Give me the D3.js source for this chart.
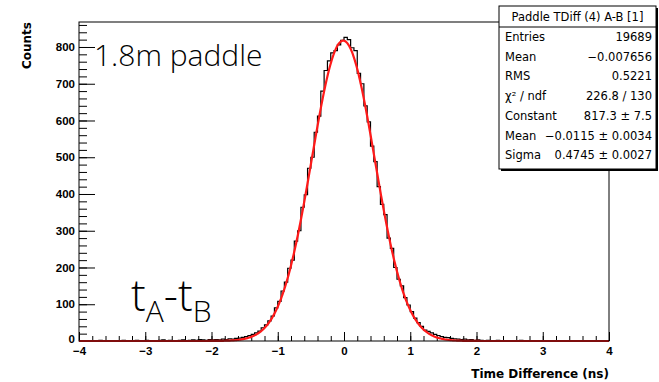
<!DOCTYPE html>
<html lang="en">
<head>
<meta charset="UTF-8">
<script src="https://d3js.org/d3.v7.min.js"></script>
<title>Paddle TDiff</title>
<style>
    body{ margin:0; background:#fff; }
    svg{ display:block; font-family:"DejaVu Sans", sans-serif; }
    .tick text{ font-weight:bold; font-size:11.5px; fill:#000; }
    .stat{ font-size:11.5px; fill:#000; }
</style>
</head>
<body>
<svg width="659" height="382"></svg>
<script>
// histogram: 160 bins of 0.05 ns from -4 to 4
let binLo = -4, binWidth = 0.05
let counts = [
  0,1,0,0,1,0,2,0,1,0, 1,0,0,2,1,0,1,2,0,1, 2,1,0,1,2,3,1,2,1,0, 2,3,1,2,3,2,4,3,2,4,
  3,4,3,5,4,6,5,7,8,10, 12,15,18,22,27,36,44,55,68,90, 108,136,160,198,220,272,300,364,398,470,
  500,568,612,680,736,762,784,790,806,818,
  826,820,798,790,728,700,640,596,530,488, 420,372,344,280,252,200,168,150,118,98,
  80,62,50,40,30,26,22,18,15,12, 10,9,7,6,5,4,5,3,4,2,
  3,2,1,2,1,1,2,0,1,1, 0,1,0,2,1,0,0,1,0,1, 0,0,1,0,0,1,0,0,0,1, 0,0,0,1,0,0,0,0,0,0
]
// gaussian fit parameters (from stats box)
let fitConstant = 817.3, fitMean = -0.0115, fitSigma = 0.4745
let statLabels = ["Entries", "Mean", "RMS", "\u03c7\u00b2 / ndf", "Constant", "Mean", "Sigma"]
let statValues = ["19689", "\u22120.007656", "0.5221", "226.8 / 130", "817.3 \u00b1 7.5", "\u22120.0115 \u00b1 0.0034", "0.4745 \u00b1 0.0027"]

let svg = d3.select("svg")
let fLeft = 79, fRight = 609, fTop = 22, fBottom = 341
let x = d3.scaleLinear().domain([-4, 4]).range([fLeft, fRight])
let y = d3.scaleLinear().domain([0, 868]).range([fBottom, fTop])

// minor + major ticks, pointing inward like ROOT
let xMinor = d3.axisBottom(x).tickValues(d3.range(-4, 4.001, 0.2)).tickSize(-5).tickFormat("")
let xMajor = d3.axisBottom(x).tickValues(d3.range(-4, 5, 1)).tickSize(-9).tickPadding(6).tickFormat(d3.format("d"))
let yMinor = d3.axisLeft(y).tickValues(d3.range(0, 861, 20)).tickSize(-8).tickFormat("")
let yMajor = d3.axisLeft(y).tickValues(d3.range(0, 801, 100)).tickSize(-16).tickPadding(4)

function addAxis(ax, tr){
    let g = svg.append("g").attr("transform", tr).call(ax)
    g.select(".domain").remove()
    g.selectAll("line").attr("stroke", "#000")
    return g
}
addAxis(xMinor, `translate(0,${fBottom})`)
addAxis(xMajor, `translate(0,${fBottom})`)
addAxis(yMinor, `translate(${fLeft},0)`)
let yg = addAxis(yMajor, `translate(${fLeft},0)`)
yg.selectAll("text").filter(d => d === 0).attr("dy", "0.1em")

// histogram outline
let pts = []
counts.forEach(function (c, i){
    let lo = binLo + i*binWidth
    pts.push([lo, c], [lo + binWidth, c])
})
let line = d3.line().x(d => x(d[0])).y(d => y(d[1]))
svg.append("path").attr("d", line(pts))
    .attr("fill", "none").attr("stroke", "#000").attr("stroke-width", 1.2)

// fit function
let fx = d3.range(-4, 4.0001, 0.01)
let fit = fx.map(v => [v, fitConstant*Math.exp(-0.5*Math.pow((v - fitMean)/fitSigma, 2))])
svg.append("path").attr("d", line(fit))
    .attr("fill", "none").attr("stroke", "#ff1a1a").attr("stroke-width", 2.2)

// frame
svg.append("rect").attr("x", fLeft).attr("y", fTop)
    .attr("width", fRight-fLeft).attr("height", fBottom-fTop)
    .attr("fill", "none").attr("stroke", "#000")

// axis titles
svg.append("text").attr("x", fRight).attr("y", 378).attr("text-anchor", "end")
    .attr("font-weight", "bold").attr("font-size", 12).text("Time Difference (ns)")
svg.append("text").attr("transform", `translate(31,${fTop}) rotate(-90)`).attr("text-anchor", "end")
    .attr("font-weight", "bold").attr("font-size", 12).text("Counts")

// annotations
svg.append("text").attr("x", 94).attr("y", 66)
    .style("font-family", "'Open Sans', sans-serif").attr("font-weight", 300).attr("font-size", 30)
    .text("1.8m paddle")
let ann = svg.append("text").attr("x", 131).attr("y", 311)
    .style("font-family", "'Open Sans', sans-serif").attr("font-weight", 300).attr("font-size", 44)
ann.append("tspan").text("t")
ann.append("tspan").attr("font-size", 30).attr("dy", 11).text("A")
ann.append("tspan").attr("dy", -11).text("-t")
ann.append("tspan").attr("font-size", 30).attr("dy", 11).text("B")

// stats box
let bx = 499, by = 6, bw = 157, bh = 163
svg.append("rect").attr("x", bx+2).attr("y", by+2).attr("width", bw).attr("height", bh).attr("fill", "#000")
svg.append("rect").attr("x", bx).attr("y", by).attr("width", bw).attr("height", bh)
    .attr("fill", "#fff").attr("stroke", "#000")
svg.append("line").attr("x1", bx).attr("x2", bx+bw).attr("y1", 27).attr("y2", 27).attr("stroke", "#000")
svg.append("text").attr("class", "stat").attr("x", bx + bw/2).attr("y", 21)
    .attr("text-anchor", "middle").text("Paddle TDiff (4) A-B [1]")
statLabels.forEach(function (s, i){
    let yy = 41 + i*19.7
    svg.append("text").attr("class", "stat").attr("x", bx+6).attr("y", yy).text(s)
    svg.append("text").attr("class", "stat").attr("x", bx+bw-4).attr("y", yy)
        .attr("text-anchor", "end").text(statValues[i])
})
</script>
</body>
</html>
